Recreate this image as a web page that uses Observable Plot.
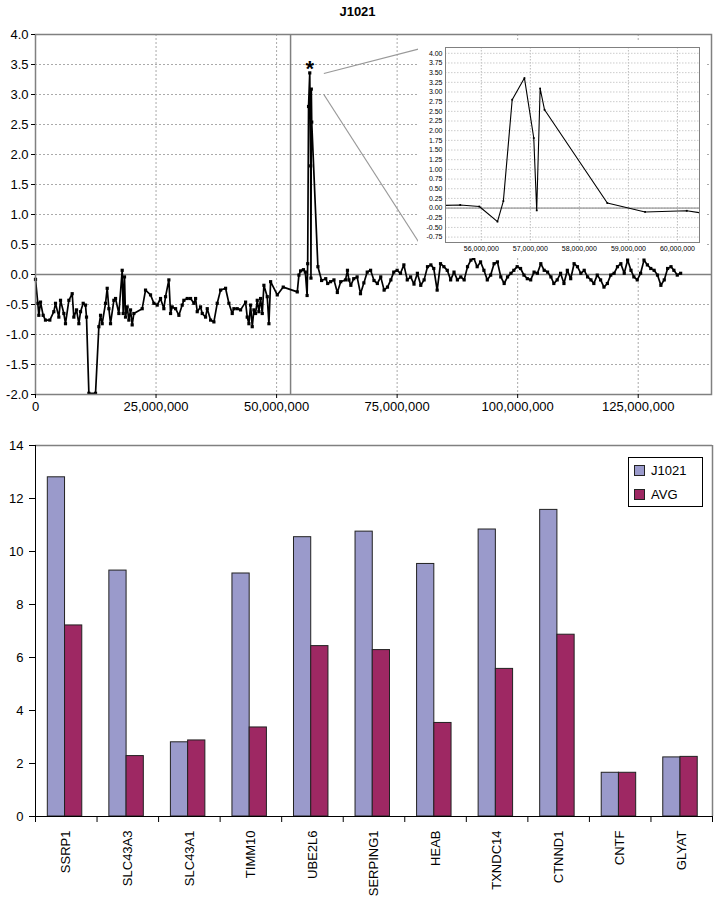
<!DOCTYPE html>
<html><head><meta charset="utf-8">
<script src="https://cdn.jsdelivr.net/npm/d3@7"></script>
<script src="https://cdn.jsdelivr.net/npm/@observablehq/plot@0.6"></script>
<style>
body{margin:0;background:#fff;font-family:"Liberation Sans",Arial,sans-serif;}
#wrap{position:relative;width:715px;height:907px;overflow:hidden;background:#fff;}
#title{position:absolute;top:4px;left:0;width:715px;text-align:center;font-weight:bold;font-size:13px;}
#top{position:absolute;top:22px;left:0;}
#inset{position:absolute;top:42px;left:418px;}
#bottom{position:absolute;top:419px;left:0;}
#legend{position:absolute;left:628px;top:457px;width:73px;height:48px;border:1px solid #000;background:#fff;font-size:13px;}
.lg{position:absolute;left:5px;height:14px;line-height:14px;}
.sw{display:inline-block;width:9px;height:9px;border:1px solid #222;vertical-align:middle;margin-right:6px;position:relative;top:-1px;}
</style></head><body>
<div id="wrap">
  <div id="title">J1021</div>
  <div id="top"></div>
  <div id="inset"></div>
  <div id="bottom"></div>
  <div id="legend"></div>
</div>
<script>
// ---------- top chart data (chromosome position in Mb, log ratio) ----------
const posMb = [
0.00,0.48,0.69,1.04,1.59,2.07,2.97,3.80,4.15,4.84,
5.19,5.88,6.22,6.92,7.61,7.95,8.51,8.99,9.34,9.89,
10.37,10.58,11.07,12.45,13.14,13.49,13.83,14.52,14.87,15.22,
15.56,16.25,16.60,17.29,17.98,18.19,18.46,18.67,19.02,19.36,
19.71,20.05,20.40,22.13,22.82,23.86,24.55,25.24,25.93,26.62,
26.97,27.66,28.01,28.35,29.05,29.74,30.43,30.77,31.47,32.16,
32.85,33.20,33.54,34.23,34.58,35.27,35.62,36.31,37.00,37.69,
38.38,39.42,40.11,40.80,41.15,41.84,42.53,43.57,43.91,44.26,
44.61,44.95,45.30,45.64,45.99,46.33,46.68,47.03,47.37,48.06,
48.41,48.76,50.14,51.38,54.29,54.63,54.98,
55.57,55.96,56.33,56.45,56.63,56.88,57.07,57.13,57.20,57.29,
58.57,59.34,60.19,60.60,61.2,61.9,62.6,63.3,64.3,64.7,65.0,65.4,66.0,66.7,
67.4,68.1,68.8,69.5,70.2,70.9,71.6,72.3,73.0,73.7,
74.3,75.0,75.7,76.4,77.1,77.8,78.5,79.2,79.9,80.6,
81.3,82.0,82.6,83.3,84.0,84.7,85.4,86.1,86.8,87.5,
88.2,88.9,89.6,90.3,90.9,91.6,92.3,93.0,93.7,94.4,
95.1,95.8,96.5,97.2,97.9,98.6,99.2,99.9,100.6,101.3,
102.0,102.7,103.4,104.1,104.8,105.5,106.2,106.9,107.5,108.2,
108.9,109.6,110.3,111.0,111.7,112.4,113.1,113.8,114.5,115.2,
115.8,116.5,117.2,117.9,118.6,119.3,120.0,120.7,121.4,122.1,
122.8,123.5,124.1,124.8,125.5,126.2,126.9,127.6,128.3,129.0,
129.7,130.4,131.1,131.8,132.4,133.1,133.8
];
const logRatio = [
-0.08,-0.48,-0.68,-0.46,-0.68,-0.76,-0.76,-0.62,-0.48,-0.71,
-0.43,-0.65,-0.82,-0.43,-0.32,-0.71,-0.59,-0.82,-0.62,-0.48,
-0.51,-0.71,-1.98,-1.98,-0.87,-0.68,-0.82,-0.48,-0.23,-0.57,
-0.82,-0.43,-0.40,-0.65,0.07,-0.65,-0.04,-0.71,-0.54,-0.76,
-0.59,-0.84,-0.65,-0.57,-0.26,-0.34,-0.48,-0.51,-0.40,-0.57,
-0.37,-0.09,-0.65,-0.54,-0.57,-0.68,-0.51,-0.43,-0.40,-0.40,
-0.48,-0.40,-0.62,-0.54,-0.65,-0.71,-0.57,-0.76,-0.79,-0.48,
-0.26,-0.23,-0.48,-0.65,-0.57,-0.57,-0.59,-0.46,-0.71,-0.82,
-0.51,-0.87,-0.59,-0.65,-0.43,-0.62,-0.40,-0.65,-0.18,-0.37,
-0.82,-0.12,-0.34,-0.21,-0.29,-0.01,0.06,
0.08,0.04,-0.35,0.18,2.80,3.36,1.81,-0.06,3.09,2.54,
0.13,-0.10,-0.07,-0.15,-0.12,-0.09,-0.30,-0.12,-0.09,0.07,-0.09,-0.18,-0.07,-0.04,
-0.32,-0.14,0.04,0.07,-0.10,-0.15,-0.04,-0.26,-0.21,-0.09,
0.04,0.07,0.02,0.16,-0.09,-0.04,-0.16,0.02,-0.18,-0.09,
0.13,0.16,0.10,-0.26,0.18,0.13,0.07,-0.09,0.04,-0.09,
-0.04,-0.09,0.13,0.24,0.27,0.13,0.21,0.07,-0.09,-0.01,
0.18,0.21,-0.04,-0.15,-0.04,0.02,0.07,0.13,0.10,-0.01,
-0.07,-0.09,0.04,0.02,0.18,0.07,0.04,-0.04,-0.15,-0.09,
0.02,-0.15,0.07,-0.07,0.18,0.13,0.02,0.07,-0.04,-0.09,
-0.15,-0.01,-0.09,-0.21,-0.15,-0.01,0.02,0.13,0.18,0.02,
0.24,0.07,-0.04,-0.09,0.02,0.24,0.16,0.10,0.07,-0.01,
-0.18,-0.09,0.10,0.13,0.07,-0.01,0.02
];
const xTicks = [0, 25e6, 50e6, 75e6, 100e6, 125e6];
const yTicks = [-2, -1.5, -1, -0.5, 0, 0.5, 1, 1.5, 2, 2.5, 3, 3.5, 4];
const xMax = 140.2e6;
const centromere = 52.9e6;
const insetXTicks = [56e6, 57e6, 58e6, 59e6, 60e6];
const insetYTicks = [-0.75,-0.5,-0.25,0,0.25,0.5,0.75,1,1.25,1.5,1.75,2,2.25,2.5,2.75,3,3.25,3.5,3.75,4];
const insetXDomain = [55.27e6, 60.45e6];
const insetYDomain = [-0.89, 4.15];
// connector lines from the peak to the inset (main-chart data coordinates)
const connFrom = [[59.8e6, 3.35], [59.8e6, 3.0]];
const connTo = [[80.6e6, 3.78], [80.6e6, 0.4]];
const starMark = [{x: 56.9e6, y: 3.42, t: "*"}];

// ---------- bottom chart data ----------
const genes = ["SSRP1","SLC43A3","SLC43A1","TIMM10","UBE2L6","SERPING1","HEAB","TXNDC14","CTNND1","CNTF","GLYAT"];
const j1021 = [12.80, 9.28, 2.80, 9.17, 10.54, 10.75, 9.53, 10.83, 11.57, 1.65, 2.23];
const avg   = [7.21, 2.28, 2.87, 3.36, 6.43, 6.28, 3.53, 5.57, 6.86, 1.65, 2.25];
const seriesNames = ["J1021", "AVG"];
const seriesColors = ["#9a9acb", "#9e2863"];
const barTicks = [0, 2, 4, 6, 8, 10, 12, 14];

const font = "Liberation Sans, Arial, sans-serif";
const pts = posMb.map((p, i) => ({pos: p * 1e6, val: logRatio[i]}));
const conns = connFrom.map((f, i) => ({x1: f[0], y1: f[1], x2: connTo[i][0], y2: connTo[i][1]}));

const topChart = Plot.plot({
  width: 715, height: 397,
  marginTop: 12, marginBottom: 25, marginLeft: 35, marginRight: 4,
  x: {domain: [0, xMax]},
  y: {domain: [-2, 4]},
  style: {fontSize: "13px", fontFamily: font, color: "#000", background: "transparent", overflow: "visible"},
  marks: [
    Plot.gridX(xTicks, {stroke: "#aaa", strokeOpacity: 1, strokeDasharray: "2,2"}),
    Plot.gridY(yTicks, {stroke: "#aaa", strokeOpacity: 1, strokeDasharray: "2,2"}),
    Plot.ruleY([0], {stroke: "#808080", strokeWidth: 1.5}),
    Plot.ruleX([centromere], {stroke: "#808080", strokeWidth: 1.5}),
    Plot.link(conns, {x1: "x1", y1: "y1", x2: "x2", y2: "y2", stroke: "#999", strokeWidth: 1.2}),
    Plot.line(pts, {x: "pos", y: "val", stroke: "#000", strokeWidth: 1.7}),
    Plot.dot(pts, {x: "pos", y: "val", symbol: "square", r: 1.8, fill: "#000", stroke: null}),
    Plot.text(starMark, {x: "x", y: "y", text: "t", fontSize: 22, fontWeight: "bold", fill: "#000"}),
    Plot.frame({stroke: "#808080", strokeWidth: 1.5}),
    Plot.axisX(xTicks, {tickFormat: d3.format(","), tickSize: 4, tickPadding: 3, label: null}),
    Plot.axisY(yTicks, {tickFormat: d => d.toFixed(1), tickSize: 4, tickPadding: 3, label: null})
  ]
});
document.getElementById("top").appendChild(topChart);

const insetChart = Plot.plot({
  width: 287, height: 216,
  marginTop: 5, marginBottom: 16, marginLeft: 27, marginRight: 6,
  x: {domain: insetXDomain},
  y: {domain: insetYDomain},
  style: {fontSize: "7px", fontFamily: font, color: "#000", background: "#fff"},
  marks: [
    Plot.gridX(insetXTicks, {stroke: "#bbb", strokeOpacity: 1, strokeDasharray: "1.5,1.5"}),
    Plot.gridY(insetYTicks, {stroke: "#ccc", strokeOpacity: 1, strokeDasharray: "1.5,1.5"}),
    Plot.ruleY([0], {stroke: "#808080", strokeWidth: 1}),
    Plot.line(pts, {x: "pos", y: "val", stroke: "#000", strokeWidth: 1.1, clip: true}),
    Plot.dot(pts, {x: "pos", y: "val", symbol: "square", r: 1, fill: "#000", stroke: null, clip: true}),
    Plot.frame({stroke: "#808080"}),
    Plot.axisX(insetXTicks, {tickFormat: d3.format(","), tickSize: 0, tickPadding: 4, label: null}),
    Plot.axisY(insetYTicks, {tickFormat: d => d.toFixed(2), tickSize: 0, tickPadding: 3, label: null})
  ]
});
document.getElementById("inset").appendChild(insetChart);

// ---------- bottom grouped bars ----------
const barRows = [];
genes.forEach((g, i) => {
  barRows.push({g, i, series: seriesNames[0], value: j1021[i], x1: i + 0.2, x2: i + 0.48});
  barRows.push({g, i, series: seriesNames[1], value: avg[i], x1: i + 0.48, x2: i + 0.76});
});
const bottomChart = Plot.plot({
  width: 715, height: 488,
  marginTop: 26, marginBottom: 91, marginLeft: 35, marginRight: 3,
  x: {domain: [0, genes.length]},
  y: {domain: [0, 14]},
  color: {domain: seriesNames, range: seriesColors},
  style: {fontSize: "13px", fontFamily: font, color: "#000", background: "transparent", overflow: "visible"},
  marks: [
    Plot.ruleY([14], {stroke: "#808080", strokeWidth: 1.5}),
    Plot.ruleX([genes.length], {stroke: "#808080", strokeWidth: 1.5}),
    Plot.rectY(barRows, {x1: "x1", x2: "x2", y: "value", fill: "series", stroke: "#222", strokeWidth: 1}),
    Plot.ruleY([0], {stroke: "#000", strokeWidth: 1}),
    Plot.ruleX([0], {stroke: "#000", strokeWidth: 1}),
    Plot.axisY(barTicks, {tickSize: 6, tickPadding: 6, label: null}),
    Plot.axisX(d3.range(genes.length + 1), {tickSize: 6, tickFormat: () => "", label: null}),
    Plot.text(genes, {x: (d, i) => i + 0.5, y: () => 0, text: d => d, rotate: -90, textAnchor: "end", dy: 14, fontSize: 13, fill: "#000"})
  ]
});
document.getElementById("bottom").appendChild(bottomChart);

// legend
const legend = document.getElementById("legend");
seriesNames.forEach((s, i) => {
  const row = document.createElement("div");
  row.className = "lg";
  row.style.top = (6 + i * 24) + "px";
  row.innerHTML = `<span class="sw" style="background:${seriesColors[i]}"></span>${s}`;
  legend.appendChild(row);
});
</script>
</body></html>
